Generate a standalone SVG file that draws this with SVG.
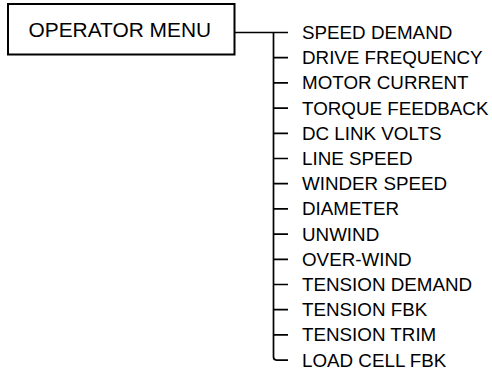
<svg xmlns="http://www.w3.org/2000/svg" width="492" height="371" viewBox="0 0 492 371">
<style>
.box{fill:#fff;stroke:#000;stroke-width:2}
.ln{fill:none;stroke:#000;stroke-width:1.7}
.t{font-family:"Liberation Sans",Arial,sans-serif;font-size:18.8px;fill:#000}
.tb{font-family:"Liberation Sans",Arial,sans-serif;font-size:20.9px;fill:#000}
</style>
<rect width="492" height="371" fill="#fff"/>
<g id="operator-menu">
<rect class="box" x="8" y="4" width="226.5" height="50.5"/>
<text class="tb" x="28.5" y="37.3">OPERATOR MENU</text>
</g>
<g id="connectors">
<path class="ln" d="M234.5 32.5H288"/>
<path class="ln" d="M273.5 32.5V357.1Q273.5 360.1 276.5 360.1H288"/>
<path class="ln" d="M273.5 57.7H288M273.5 82.9H288M273.5 108.1H288M273.5 133.3H288M273.5 158.5H288M273.5 183.7H288M273.5 208.9H288M273.5 234.1H288M273.5 259.3H288M273.5 284.5H288M273.5 309.7H288M273.5 334.9H288"/>
</g>
<g id="items" class="t">
<text x="302" y="39">SPEED DEMAND</text>
<text x="302" y="64.2">DRIVE FREQUENCY</text>
<text x="302" y="89.4">MOTOR CURRENT</text>
<text x="302" y="114.6">TORQUE FEEDBACK</text>
<text x="302" y="139.8">DC LINK VOLTS</text>
<text x="302" y="165">LINE SPEED</text>
<text x="302" y="190.2">WINDER SPEED</text>
<text x="302" y="215.4">DIAMETER</text>
<text x="302" y="240.6">UNWIND</text>
<text x="302" y="265.8">OVER-WIND</text>
<text x="302" y="291">TENSION DEMAND</text>
<text x="302" y="316.2">TENSION FBK</text>
<text x="302" y="341.4">TENSION TRIM</text>
<text x="302" y="366.6">LOAD CELL FBK</text>
</g>
</svg>
